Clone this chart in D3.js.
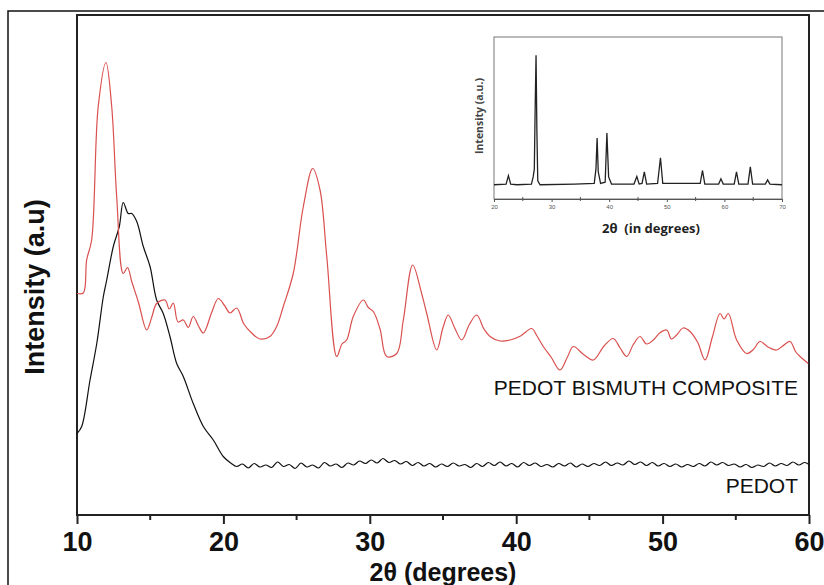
<!DOCTYPE html>
<html>
<head>
<meta charset="utf-8">
<script src="https://cdn.jsdelivr.net/npm/d3@7"></script>
<style>
  body { margin: 0; background: #ffffff; }
</style>
</head>
<body>
<div id="chart-container"></div>
<script>
const width = 824;
const height = 585;
const marginLeft = 77;
const marginRight = 15;
const marginTop = 15;
const marginBottom = 70;

// main pattern, 2θ (deg) vs intensity (a.u.)
const compositeTheta = [10.0, 10.43, 10.66, 11.0, 11.45, 11.98, 12.37, 12.71, 13.16, 13.45, 13.74, 14.2, 14.76, 15.1, 15.44, 16.01, 16.3, 16.58, 16.9, 17.26, 17.6, 17.94, 18.3, 18.63, 19.2, 19.65, 20.1, 20.45, 20.91, 21.4, 21.93, 22.5, 23.18, 23.64, 24.09, 24.77, 25.46, 26.1, 26.6, 27.06, 27.74, 28.1, 28.42, 28.87, 29.56, 29.9, 30.24, 30.7, 31.15, 31.84, 32.29, 32.93, 33.54, 33.89, 34.57, 35.0, 35.36, 35.8, 36.28, 36.8, 37.3, 37.8, 38.21, 38.9, 39.58, 40.3, 41.06, 41.4, 41.85, 42.4, 42.99, 43.5, 43.9, 44.6, 45.27, 46.0, 46.63, 47.1, 47.55, 48.0, 48.46, 48.9, 49.37, 49.8, 50.28, 50.6, 50.96, 51.4, 51.87, 52.4, 52.9, 53.4, 53.92, 54.2, 54.49, 55.06, 55.74, 56.2, 56.65, 57.2, 57.79, 58.2, 58.7, 59.1, 59.39, 59.95];
const compositeValue = [44.3, 44.4, 51, 55, 81.7, 90.5, 81.7, 63.7, 48.3, 49.5, 46.7, 42.5, 37, 39.5, 42.3, 43, 41.2, 42.4, 38.6, 39, 37.5, 39.7, 37.8, 36.4, 40.5, 43.3, 41.8, 40.4, 41.4, 38.2, 36.4, 35.2, 35.7, 37.7, 41.7, 48.3, 61.7, 69.3, 65, 51.7, 31.7, 34.2, 35, 39.7, 43, 41.5, 40.7, 37.2, 31.7, 32.3, 39, 50, 44.3, 40.3, 33, 37.5, 40, 37.4, 35, 38.1, 40, 37.2, 35.7, 34.8, 35, 35.8, 37.3, 35.9, 33.7, 31.5, 29, 31.6, 33.7, 32.1, 31, 33.8, 35.3, 33.4, 31.7, 34.1, 35.7, 34.2, 35, 36.4, 37, 35.2, 36, 37.4, 36.7, 34.5, 31, 35.6, 40.3, 39.2, 40.3, 35, 32.3, 33.1, 34.7, 33.6, 33, 33.8, 34.7, 32.6, 31.7, 30.3];

const pedotTheta = [10.0, 10.32, 10.89, 11.35, 11.8, 12.03, 12.48, 12.89, 13.16, 13.5, 13.74, 14.08, 14.53, 14.99, 15.44, 15.89, 16.35, 16.81, 17.26, 17.94, 18.63, 19.31, 19.99, 20.5, 20.91, 21.3, 21.7, 22.1, 22.5, 22.9, 23.3, 23.7, 24.1, 24.5, 24.9, 25.3, 25.7, 26.1, 26.5, 26.9, 27.3, 27.7, 28.1, 28.5, 28.9, 29.3, 29.7, 30.1, 30.5, 30.9, 31.3, 31.7, 32.1, 32.5, 32.9, 33.3, 33.7, 34.1, 34.5, 34.9, 35.3, 35.7, 36.1, 36.5, 36.9, 37.3, 37.7, 38.1, 38.5, 38.9, 39.3, 39.7, 40.1, 40.5, 40.9, 41.3, 41.7, 42.1, 42.5, 42.9, 43.3, 43.7, 44.1, 44.5, 44.9, 45.3, 45.7, 46.1, 46.5, 46.9, 47.3, 47.7, 48.1, 48.5, 48.9, 49.3, 49.7, 50.1, 50.5, 50.9, 51.3, 51.7, 52.1, 52.5, 52.9, 53.3, 53.7, 54.1, 54.5, 54.9, 55.3, 55.7, 56.1, 56.5, 56.9, 57.3, 57.7, 58.1, 58.5, 58.9, 59.3, 59.7, 60.0];
const pedotValue = [16.3, 17.7, 27, 34.3, 43.7, 47, 53.7, 57.7, 62.5, 60.3, 60.3, 58.7, 53.7, 49.7, 43, 40.3, 35.7, 30.3, 27.7, 22.3, 17.7, 15, 11.7, 10.4, 9.7, 10.2, 9.4, 10.3, 9.6, 10.0, 9.5, 10.6, 9.7, 10.1, 9.3, 10.4, 9.6, 10.0, 9.4, 10.5, 9.8, 10.2, 9.5, 10.4, 10.0, 10.8, 10.3, 11.0, 10.4, 11.3, 10.5, 10.9, 10.2, 10.7, 9.9, 10.5, 9.8, 10.3, 9.6, 10.2, 9.7, 10.4, 9.8, 10.1, 9.5, 10.3, 9.7, 10.5, 9.9, 10.6, 9.8, 10.3, 9.6, 10.5, 9.9, 10.4, 9.7, 10.1, 9.6, 10.3, 9.8, 10.4, 9.6, 10.2, 9.7, 10.3, 9.9, 10.6, 9.9, 10.4, 10.0, 10.8, 10.1, 10.6, 9.9, 10.5, 9.8, 10.3, 9.7, 10.2, 9.6, 10.1, 9.7, 10.3, 9.8, 10.6, 10.0, 10.5, 9.9, 10.2, 9.6, 10.1, 9.5, 10.0, 9.7, 10.4, 9.8, 10.3, 9.9, 10.6, 10.0, 10.5, 10.1];

const xTicks = [10, 20, 30, 40, 50, 60];
const xMinorTicks = [15, 25, 35, 45, 55];

// inset: bismuth XRD, 2θ (deg) vs relative intensity
const insetTheta = [20, 22.1, 22.5, 22.9, 24, 26.5, 26.8, 27.0, 27.15, 27.3, 27.45, 27.6, 28, 34, 37.4, 37.7, 37.9, 38.1, 38.5, 39.3, 39.6, 39.9, 40.4, 44.3, 44.8, 45.2, 45.7, 46.1, 46.5, 48.4, 48.9, 49.3, 55.8, 56.2, 56.6, 59.0, 59.4, 59.8, 61.7, 62.1, 62.5, 64.1, 64.5, 64.9, 67.1, 67.5, 67.9, 70];
const insetValue = [0, 0.5, 7, 0.5, 0, 0.5, 6, 12, 60, 100, 40, 3, 0, 0.5, 1, 12, 36, 10, 1, 2, 40, 6, 0.5, 0.5, 6.4, 0.5, 1, 10, 0.5, 1, 20.8, 1, 1, 11, 0.5, 0.5, 4.6, 0.5, 0.5, 10, 0.5, 0.5, 13.8, 0.5, 0.5, 3.8, 0.5, 0];
const insetTicks = [20, 30, 40, 50, 60, 70];
const insetMinorTicks = [25, 35, 45, 55, 65];

const svg = d3.select("#chart-container")
    .append("svg")
    .attr("width", width)
    .attr("height", height)
    .style("background-color", "#ffffff");

// outer frame (only top & left visible in the crop)
svg.append("path")
    .attr("d", `M8,${height} L8,11 L${width},11`)
    .attr("fill", "none")
    .attr("stroke", "#111")
    .attr("stroke-width", 1.5);

const x = d3.scaleLinear()
    .domain([10, 60])
    .range([marginLeft, width - marginRight]);

const y = d3.scaleLinear()
    .domain([0, 100])
    .range([height - marginBottom, marginTop]);

const font = "'Liberation Sans', Arial, sans-serif";

// plot box
svg.append("rect")
    .attr("x", x(10))
    .attr("y", y(100))
    .attr("width", x(60) - x(10))
    .attr("height", y(0) - y(100))
    .attr("fill", "none")
    .attr("stroke", "#222")
    .attr("stroke-width", 2);

const xAxis = svg.append("g")
    .attr("transform", `translate(0,${y(0)})`)
    .call(d3.axisBottom(x).tickValues(xTicks).tickSize(9).tickPadding(8).tickFormat(d3.format("d")));
xAxis.select(".domain").remove();
xAxis.selectAll(".tick line").attr("stroke", "#222").attr("stroke-width", 2);
xAxis.selectAll(".tick text")
    .attr("fill", "#111")
    .style("font-family", font)
    .style("font-weight", "bold")
    .style("font-size", "27px");

svg.append("g")
    .attr("transform", `translate(0,${y(0)})`)
    .selectAll("line")
    .data(xMinorTicks)
    .join("line")
    .attr("x1", d => x(d))
    .attr("x2", d => x(d))
    .attr("y1", 0)
    .attr("y2", 5)
    .attr("stroke", "#222")
    .attr("stroke-width", 2);

svg.append("text")
    .attr("x", (x(10) + x(60)) / 2)
    .attr("y", 581)
    .attr("text-anchor", "middle")
    .attr("fill", "#111")
    .style("font-family", font)
    .style("font-weight", "bold")
    .style("font-size", "25px")
    .text("2θ (degrees)");

svg.append("text")
    .attr("transform", "translate(44, 287) rotate(-90)")
    .attr("text-anchor", "middle")
    .attr("fill", "#111")
    .style("font-family", font)
    .style("font-weight", "bold")
    .style("font-size", "27px")
    .text("Intensity (a.u)");

const line = d3.line()
    .x(d => x(d[0]))
    .y(d => y(d[1]))
    .curve(d3.curveCatmullRom.alpha(0.5));

svg.append("path")
    .datum(d3.zip(pedotTheta, pedotValue))
    .attr("d", line)
    .attr("fill", "none")
    .attr("stroke", "#111")
    .attr("stroke-width", 1.2);

svg.append("path")
    .datum(d3.zip(compositeTheta, compositeValue))
    .attr("d", line)
    .attr("fill", "none")
    .attr("stroke", "#d9504f")
    .attr("stroke-width", 1.2);

svg.append("text")
    .attr("x", 798)
    .attr("y", 395)
    .attr("text-anchor", "end")
    .attr("fill", "#111")
    .style("font-family", font)
    .style("font-size", "21px")
    .text("PEDOT BISMUTH COMPOSITE");

svg.append("text")
    .attr("x", 798)
    .attr("y", 493)
    .attr("text-anchor", "end")
    .attr("fill", "#111")
    .style("font-family", font)
    .style("font-size", "21px")
    .text("PEDOT");

// inset
const ix = d3.scaleLinear()
    .domain([20, 70])
    .range([494, 782]);

const iy = d3.scaleLinear()
    .domain([-11, 114])
    .range([199, 37]);

svg.append("rect")
    .attr("x", ix(20))
    .attr("y", iy(114))
    .attr("width", ix(70) - ix(20))
    .attr("height", iy(-11) - iy(114))
    .attr("fill", "none")
    .attr("stroke", "#777")
    .attr("stroke-width", 1);

const insetAxis = svg.append("g")
    .attr("transform", `translate(0,${iy(-11)})`)
    .call(d3.axisBottom(ix).tickValues(insetTicks).tickSize(3).tickPadding(3));
insetAxis.select(".domain").attr("stroke", "#555");
insetAxis.selectAll(".tick line").attr("stroke", "#555");
insetAxis.selectAll(".tick text")
    .attr("fill", "#555")
    .style("font-family", font)
    .style("font-size", "6px");

svg.append("g")
    .attr("transform", `translate(0,${iy(-11)})`)
    .selectAll("line")
    .data(insetMinorTicks)
    .join("line")
    .attr("x1", d => ix(d))
    .attr("x2", d => ix(d))
    .attr("y1", -2)
    .attr("y2", 2)
    .attr("stroke", "#555");

svg.append("path")
    .datum(d3.zip(insetTheta, insetValue))
    .attr("d", d3.line().x(d => ix(d[0])).y(d => iy(d[1])))
    .attr("fill", "none")
    .attr("stroke", "#222")
    .attr("stroke-width", 1.3);

svg.append("text")
    .attr("x", 651)
    .attr("y", 233)
    .attr("text-anchor", "middle")
    .attr("fill", "#222")
    .style("font-family", "'Open Sans', sans-serif")
    .style("font-weight", "bold")
    .style("font-size", "13px")
    .style("white-space", "pre")
    .text("2θ  (in degrees)");

svg.append("text")
    .attr("transform", "translate(483, 116) rotate(-90)")
    .attr("text-anchor", "middle")
    .attr("fill", "#444")
    .style("font-family", "'Open Sans', sans-serif")
    .style("font-weight", "bold")
    .style("font-size", "10.5px")
    .text("Intensity (a.u.)");
</script>
</body>
</html>
